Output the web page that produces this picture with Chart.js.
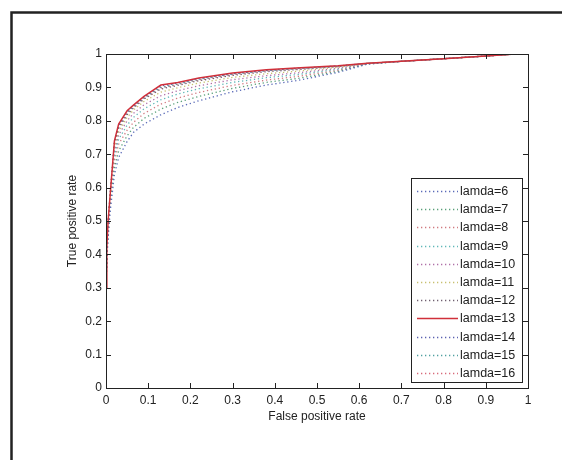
<!DOCTYPE html>
<html>
<head>
<meta charset="utf-8">
<script src="https://cdn.jsdelivr.net/npm/chart.js@4.4.0/dist/chart.umd.min.js"></script>
<style>
html,body{margin:0;padding:0;background:#fff;}
canvas{display:block;}
</style>
</head>
<body>
<canvas id="c" width="562" height="460"></canvas>
<script>
// ---- data ----
const fpr = [0, 0.002, 0.005, 0.01, 0.02, 0.03, 0.05, 0.065, 0.09, 0.13, 0.17, 0.22, 0.3, 0.38, 0.45, 0.55, 0.62, 0.7, 0.8, 0.9, 0.97];
const labels = ['lamda=6','lamda=7','lamda=8','lamda=9','lamda=10','lamda=11','lamda=12','lamda=13','lamda=14','lamda=15','lamda=16'];
const tpr6  = [0.30,0.38,0.45,0.53,0.64,0.69,0.738,0.765,0.79,0.818,0.84,0.86,0.887,0.907,0.92,0.945,0.97,0.978,0.986,0.994,1.0];
const tpr7  = [0.30,0.39,0.46,0.55,0.66,0.71,0.755,0.78,0.807,0.835,0.855,0.873,0.897,0.915,0.926,0.948,0.97,0.978,0.986,0.994,1.0];
const tpr8  = [0.30,0.40,0.47,0.56,0.68,0.73,0.772,0.795,0.822,0.85,0.868,0.885,0.906,0.922,0.932,0.951,0.971,0.978,0.986,0.994,1.0];
const tpr9  = [0.30,0.40,0.48,0.565,0.695,0.745,0.787,0.81,0.836,0.863,0.88,0.896,0.915,0.929,0.938,0.954,0.971,0.978,0.986,0.994,1.0];
const tpr10 = [0.30,0.41,0.48,0.57,0.705,0.758,0.80,0.822,0.848,0.875,0.89,0.905,0.923,0.935,0.943,0.957,0.971,0.978,0.986,0.994,1.0];
const tpr11 = [0.30,0.41,0.49,0.575,0.715,0.768,0.81,0.832,0.858,0.886,0.899,0.913,0.93,0.941,0.948,0.96,0.972,0.978,0.986,0.994,1.0];
const tpr12 = [0.30,0.42,0.49,0.578,0.725,0.777,0.818,0.838,0.865,0.895,0.906,0.92,0.936,0.947,0.953,0.962,0.972,0.978,0.986,0.994,1.0];
const tpr13 = [0.30,0.42,0.50,0.58,0.74,0.79,0.83,0.847,0.873,0.907,0.915,0.928,0.943,0.953,0.958,0.965,0.972,0.978,0.986,0.994,1.0];
const tpr14 = [0.30,0.42,0.50,0.58,0.737,0.787,0.828,0.845,0.871,0.904,0.913,0.926,0.941,0.951,0.957,0.964,0.972,0.978,0.986,0.994,1.0];
const tpr15 = [0.30,0.42,0.50,0.578,0.733,0.784,0.825,0.843,0.869,0.90,0.91,0.924,0.94,0.95,0.956,0.964,0.972,0.978,0.986,0.994,1.0];
const tpr16 = [0.30,0.42,0.495,0.575,0.73,0.782,0.822,0.841,0.867,0.898,0.909,0.922,0.938,0.949,0.955,0.963,0.972,0.978,0.986,0.994,1.0];
const xTicks = [0,0.1,0.2,0.3,0.4,0.5,0.6,0.7,0.8,0.9,1];
const yTicks = [0,0.1,0.2,0.3,0.4,0.5,0.6,0.7,0.8,0.9,1];

// ---- styles ----
const series = [tpr6,tpr7,tpr8,tpr9,tpr10,tpr11,tpr12,tpr13,tpr14,tpr15,tpr16];
const colors = ['#5a6ab8','#5aa07a','#d07a80','#60b8b8','#b070a8','#c8c070','#706070','#d0303a','#5a60b0','#50a0a0','#d86a7a'];
const FONT = '"Liberation Sans", Arial, sans-serif';

const datasets = series.map((s, i) => ({
  label: labels[i],
  data: s.map((v, j) => ({x: fpr[j], y: v})),
  borderColor: colors[i],
  backgroundColor: colors[i],
  borderWidth: i === 7 ? 1.5 : 1.3,
  borderDash: i === 7 ? [] : [1.3, 2.7],
  pointRadius: 0,
  fill: false,
  tension: 0,
  order: i === 7 ? 0 : 1
}));

const framePlugin = {
  id: 'frame',
  beforeDraw(chart) {
    const ctx = chart.ctx;
    ctx.save();
    ctx.fillStyle = '#fff';
    ctx.fillRect(0, 0, chart.width, chart.height);
    ctx.strokeStyle = '#222';
    ctx.lineWidth = 2.5;
    ctx.beginPath();
    ctx.moveTo(11.5, 470);
    ctx.lineTo(11.5, 12.5);
    ctx.lineTo(570, 12.5);
    ctx.stroke();
    ctx.restore();
  }
};

const boxPlugin = {
  id: 'box',
  afterDraw(chart) {
    const ctx = chart.ctx;
    const xs = chart.scales.x, ys = chart.scales.y;
    const a = chart.chartArea;
    ctx.save();
    ctx.strokeStyle = '#222';
    ctx.lineWidth = 1;
    ctx.strokeRect(Math.round(a.left) + 0.5, Math.round(a.top) + 0.5, Math.round(a.right - a.left), Math.round(a.bottom - a.top));
    const L = 5;
    ctx.beginPath();
    xTicks.forEach(v => {
      const px = Math.round(xs.getPixelForValue(v)) + 0.5;
      ctx.moveTo(px, a.bottom); ctx.lineTo(px, a.bottom - L);
      ctx.moveTo(px, a.top); ctx.lineTo(px, a.top + L);
    });
    yTicks.forEach(v => {
      const py = Math.round(ys.getPixelForValue(v)) + 0.5;
      ctx.moveTo(a.left, py); ctx.lineTo(a.left + L, py);
      ctx.moveTo(a.right, py); ctx.lineTo(a.right - L, py);
    });
    ctx.stroke();

    // legend
    const lx = 411.5, ly = 178.5, lw = 111, lh = 204;
    ctx.fillStyle = '#fff';
    ctx.fillRect(lx, ly, lw, lh);
    ctx.strokeStyle = '#222';
    ctx.strokeRect(lx, ly, lw, lh);
    ctx.font = '12.5px ' + FONT;
    ctx.textBaseline = 'middle';
    ctx.textAlign = 'left';
    chart.data.datasets.forEach((ds, i) => {
      const y = 191 + i * 18.2;
      ctx.strokeStyle = ds.borderColor;
      ctx.lineWidth = ds.borderWidth;
      ctx.setLineDash(ds.borderDash);
      ctx.beginPath();
      ctx.moveTo(417, Math.round(y) + 0.5);
      ctx.lineTo(458, Math.round(y) + 0.5);
      ctx.stroke();
      ctx.setLineDash([]);
      ctx.fillStyle = '#222';
      ctx.fillText(ds.label, 460, y + 0.5);
    });
    ctx.restore();
  }
};

new Chart(document.getElementById('c'), {
  type: 'line',
  data: { datasets },
  options: {
    responsive: false,
    animation: false,
    devicePixelRatio: 1,
    layout: { padding: { left: 0, top: 54, right: 34, bottom: 0 } },
    plugins: { legend: { display: false }, tooltip: { enabled: false } },
    scales: {
      x: {
        type: 'linear', min: 0, max: 1,
        afterFit(s) { s.height = 72; },
        afterBuildTicks(s) { s.ticks = xTicks.map(v => ({value: v})); },
        grid: { display: false, drawTicks: false },
        border: { display: false },
        ticks: { padding: 5, color: '#222', font: { family: FONT, size: 12 }, maxRotation: 0, autoSkip: false,
                 callback: v => String(+v.toFixed(1)) },
        title: { display: true, text: 'False positive rate', color: '#222', font: { family: FONT, size: 12 }, padding: { top: 0, bottom: 36 } }
      },
      y: {
        type: 'linear', min: 0, max: 1,
        afterFit(s) { s.width = 106; },
        afterBuildTicks(s) { s.ticks = yTicks.map(v => ({value: v})); },
        grid: { display: false, drawTicks: false },
        border: { display: false },
        ticks: { padding: 4, color: '#222', font: { family: FONT, size: 12 }, autoSkip: false,
                 callback: v => String(+v.toFixed(1)) },
        title: { display: true, text: 'True positive rate', color: '#222', font: { family: FONT, size: 12 }, padding: { top: 65, bottom: 0 } }
      }
    }
  },
  plugins: [framePlugin, boxPlugin]
});
</script>
</body>
</html>
